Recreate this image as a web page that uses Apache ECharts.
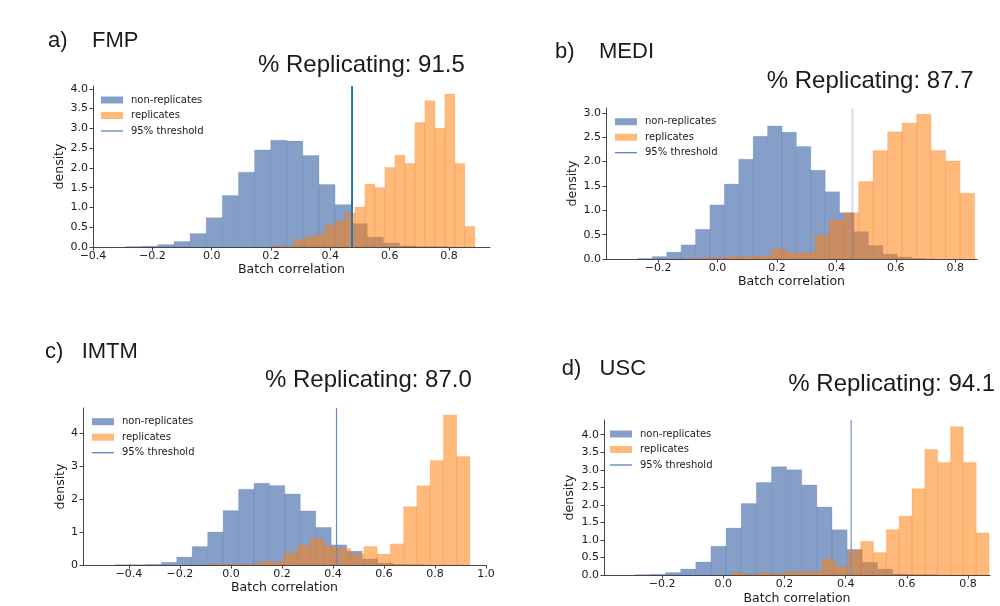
<!DOCTYPE html>
<html>
<head>
<meta charset="utf-8">
<script src="https://cdn.jsdelivr.net/npm/echarts@6/dist/echarts.min.js"></script>
<style>
  html, body { margin: 0; padding: 0; background: #fff; }
  #grafico { width: 1000px; height: 606px; }
</style>
</head>
<body>
<div id="grafico"></div>
<script>
// DATA: density of each histogram bin (20 equal bins over the given range)

// a) FMP
const fmpNonRange = [-0.29, 0.796];
const fmpNon = [0.01, 0.02, 0.06, 0.14, 0.34, 0.74, 1.30, 1.89, 2.45, 2.70, 2.68, 2.31, 1.58, 1.07, 0.59, 0.25, 0.10, 0.03, 0.01, 0.01];
const fmpRepRange = [0.213, 0.887];
const fmpRep = [0.03, 0.03, 0.19, 0.25, 0.32, 0.55, 0.66, 0.86, 1.01, 1.59, 1.50, 2.01, 2.32, 2.11, 3.15, 3.70, 3.00, 3.87, 2.11, 0.52];
const fmpThreshold = 0.473;

// b) MEDI
const mediNonRange = [-0.268, 0.702];
const mediNon = [0.01, 0.05, 0.14, 0.29, 0.61, 1.11, 1.54, 2.05, 2.52, 2.73, 2.60, 2.31, 1.82, 1.38, 0.95, 0.56, 0.28, 0.10, 0.04, 0.01];
const mediRepRange = [-0.111, 0.865];
const mediRep = [0.01, 0.02, 0.03, 0.05, 0.05, 0.06, 0.21, 0.13, 0.13, 0.49, 0.80, 0.95, 1.59, 2.23, 2.61, 2.79, 2.97, 2.23, 2.01, 1.35];
const mediThreshold = 0.454;

// c) IMTM
const imtmNonRange = [-0.455, 0.757];
const imtmNon = [0.01, 0.01, 0.02, 0.08, 0.24, 0.56, 1.00, 1.65, 2.30, 2.48, 2.41, 2.15, 1.64, 1.14, 0.61, 0.42, 0.18, 0.06, 0.02, 0.01];
const imtmRepRange = [-0.103, 0.937];
const imtmRep = [0.01, 0.03, 0.02, 0.01, 0.10, 0.10, 0.37, 0.60, 0.81, 0.58, 0.51, 0.33, 0.56, 0.33, 0.64, 1.77, 2.40, 3.17, 4.55, 3.29];
const imtmThreshold = 0.414;

// d) USC
const uscNonRange = [-0.288, 0.702];
const uscNon = [0.01, 0.02, 0.07, 0.17, 0.37, 0.82, 1.34, 2.04, 2.64, 3.09, 3.00, 2.57, 1.94, 1.29, 0.73, 0.36, 0.17, 0.03, 0.01, 0.01];
const uscRepRange = [0.029, 0.869];
const uscRep = [0.07, 0.01, 0.07, 0.03, 0.09, 0.10, 0.10, 0.45, 0.24, 0.71, 0.96, 0.64, 1.29, 1.68, 2.46, 3.58, 3.21, 4.23, 3.21, 1.20];
const uscThreshold = 0.418;

// tick labels
const xTicksA = [-0.4, -0.2, 0, 0.2, 0.4, 0.6, 0.8];
const xTicksB = [-0.2, 0, 0.2, 0.4, 0.6, 0.8];
const xTicksC = [-0.4, -0.2, 0, 0.2, 0.4, 0.6, 0.8, 1.0];
const xTicksD = [-0.2, 0, 0.2, 0.4, 0.6, 0.8];
const yTicksA = [0, 0.5, 1, 1.5, 2, 2.5, 3, 3.5, 4];
const yTicksB = [0, 0.5, 1, 1.5, 2, 2.5, 3];
const yTicksC = [0, 1, 2, 3, 4];
const yTicksD = [0, 0.5, 1, 1.5, 2, 2.5, 3, 3.5, 4];

// PANELS (layout + styles)
const panels = [
  { key: "a", label: "a)    FMP", pct: "% Replicating: 91.5", non: fmpNon, nonRange: fmpNonRange, rep: fmpRep, repRange: fmpRepRange, thr: fmpThreshold,
    grid: { left: 93, top: 86, width: 397, height: 161 }, xRange: [-0.4, 0.938], yMax: 4.07, xTicks: xTicksA, yTicks: yTicksA, yDigits: 1,
    labelPos: [48, 48.3], pctPos: [258, 73.3], legendPos: [101, 95], yGap: 24, xGap: 14,
    thrStyle: { color: "#1f77b4", width: 2 } },
  { key: "b", label: "b)    MEDI", pct: "% Replicating: 87.7", non: mediNon, nonRange: mediNonRange, rep: mediRep, repRange: mediRepRange, thr: mediThreshold,
    grid: { left: 606, top: 108, width: 371, height: 151 }, xRange: [-0.375, 0.873], yMax: 3.1, xTicks: xTicksB, yTicks: yTicksB, yDigits: 1,
    labelPos: [555, 60], pctPos: [766.7, 89.3], legendPos: [615, 116.7], yGap: 27, xGap: 14,
    thrStyle: { color: "rgba(76,114,176,0.25)", width: 2 } },
  { key: "c", label: "c)   IMTM", pct: "% Replicating: 87.0", non: imtmNon, nonRange: imtmNonRange, rep: imtmRep, repRange: imtmRepRange, thr: imtmThreshold,
    grid: { left: 83, top: 408, width: 403, height: 157 }, xRange: [-0.58, 1.0], yMax: 4.76, xTicks: xTicksC, yTicks: yTicksC, yDigits: 0,
    labelPos: [45, 360], pctPos: [265, 388.3], legendPos: [92, 416.7], yGap: 16, xGap: 13,
    thrStyle: { color: "#6a89c8", width: 1.2 } },
  { key: "d", label: "d)   USC", pct: "% Replicating: 94.1", non: uscNon, nonRange: uscNonRange, rep: uscRep, repRange: uscRepRange, thr: uscThreshold,
    grid: { left: 604, top: 420, width: 386, height: 157.5 }, xRange: [-0.39, 0.872], yMax: 4.42, xTicks: xTicksD, yTicks: yTicksD, yDigits: 1,
    labelPos: [561.7, 376.7], pctPos: [788.3, 392.3], legendPos: [610, 429], yGap: 28, xGap: 17,
    thrStyle: { color: "#7592cf", width: 1.2 } }
];

const blueFill = "rgba(76,114,176,0.68)";
const orangeFill = "rgba(255,127,14,0.55)";
const axisColor = "#444";
const tickFont = "DejaVu Sans";

// bins -> [left edge, right edge, density]
function toBins(range, heights) {
  let w = (range[1] - range[0]) / heights.length;
  return heights.map((h, i) => [range[0] + i * w, range[0] + (i + 1) * w, h]);
}

function drawBar(params, api) {
  let top = api.coord([api.value(0), api.value(2)]);
  let end = api.coord([api.value(1), 0]);
  return {
    type: "rect",
    shape: { x: top[0], y: top[1], width: end[0] - top[0], height: end[1] - top[1] },
    style: api.style()
  };
}

function fmtX(v) {
  return (v < 0 ? "\u2212" : "") + Math.abs(v).toFixed(1);
}

let grids = [], xAxes = [], yAxes = [], series = [], legends = [], texts = [];

panels.forEach((p, i) => {
  grids.push(Object.assign({ containLabel: false }, p.grid));

  xAxes.push({
    type: "value", gridIndex: i, min: p.xRange[0], max: p.xRange[1],
    name: "Batch correlation", nameLocation: "middle", nameGap: p.xGap,
    nameTextStyle: { fontFamily: tickFont, fontSize: 12.5, color: "#1a1a1a" },
    splitLine: { show: false },
    axisLine: { show: true, onZero: false, lineStyle: { color: axisColor, width: 1 } },
    axisTick: { show: true, length: 3.5, customValues: p.xTicks, lineStyle: { color: axisColor } },
    axisLabel: { customValues: p.xTicks, formatter: fmtX, margin: 4, fontFamily: tickFont, fontSize: 11, color: "#1a1a1a" }
  });

  yAxes.push({
    type: "value", gridIndex: i, min: 0, max: p.yMax,
    name: "density", nameLocation: "middle", nameGap: p.yGap, nameRotate: 90,
    nameTextStyle: { fontFamily: tickFont, fontSize: 12.5, color: "#1a1a1a" },
    splitLine: { show: false },
    axisLine: { show: true, onZero: false, lineStyle: { color: axisColor, width: 1 } },
    axisTick: { show: true, length: 3.5, customValues: p.yTicks, lineStyle: { color: axisColor } },
    axisLabel: { customValues: p.yTicks, formatter: v => v.toFixed(p.yDigits), margin: 5, fontFamily: tickFont, fontSize: 11, color: "#1a1a1a" }
  });

  series.push({
    name: "non-replicates|" + p.key, type: "custom", xAxisIndex: i, yAxisIndex: i,
    renderItem: drawBar, encode: { x: [0, 1], y: 2 },
    itemStyle: { color: blueFill, borderColor: "rgba(60,95,160,0.25)", borderWidth: 0.6 },
    data: toBins(p.nonRange, p.non)
  });
  series.push({
    name: "replicates|" + p.key, type: "custom", xAxisIndex: i, yAxisIndex: i,
    renderItem: drawBar, encode: { x: [0, 1], y: 2 },
    itemStyle: { color: orangeFill, borderColor: "rgba(225,110,10,0.25)", borderWidth: 0.6 },
    data: toBins(p.repRange, p.rep)
  });
  series.push({
    name: "95% threshold|" + p.key, type: "line", xAxisIndex: i, yAxisIndex: i,
    symbol: "none", lineStyle: p.thrStyle, itemStyle: { color: p.thrStyle.color }, z: 5,
    data: [[p.thr, 0], [p.thr, p.yMax]]
  });

  legends.push({
    left: p.legendPos[0], top: p.legendPos[1], orient: "vertical", padding: 0,
    itemGap: 5.5, itemWidth: 22, itemHeight: 7, selectedMode: false,
    formatter: name => name.split("|")[0],
    textStyle: { fontFamily: tickFont, fontSize: 10, color: "#1a1a1a", lineHeight: 10, padding: [0, 0, 0, 3] },
    data: [
      { name: "non-replicates|" + p.key, icon: "rect", itemStyle: { borderWidth: 0 } },
      { name: "replicates|" + p.key, icon: "rect", itemStyle: { borderWidth: 0 } },
      { name: "95% threshold|" + p.key, icon: "path://M0,2.9H22V4.2H0Z", itemStyle: { color: "#5b7fc4", borderWidth: 0 } }
    ]
  });

  // panel titles (baseline positions converted to middle)
  texts.push({
    type: "text", x: p.labelPos[0], y: p.labelPos[1] - 0.35 * 22,
    style: { text: p.label, fontFamily: "Liberation Sans", fontSize: 22, fill: "#1a1a1a", verticalAlign: "middle" }
  });
  texts.push({
    type: "text", x: p.pctPos[0], y: p.pctPos[1] - 0.35 * 24,
    style: { text: p.pct, fontFamily: "Liberation Sans", fontSize: 24, fill: "#1a1a1a", verticalAlign: "middle" }
  });
});

// CHART OPTIONS
let options = {
  animation: false,
  backgroundColor: "#fff",
  grid: grids,
  xAxis: xAxes,
  yAxis: yAxes,
  legend: legends,
  series: series,
  graphic: texts
};

let chart = echarts.init(document.getElementById("grafico"));
chart.setOption(options);
</script>
</body>
</html>
